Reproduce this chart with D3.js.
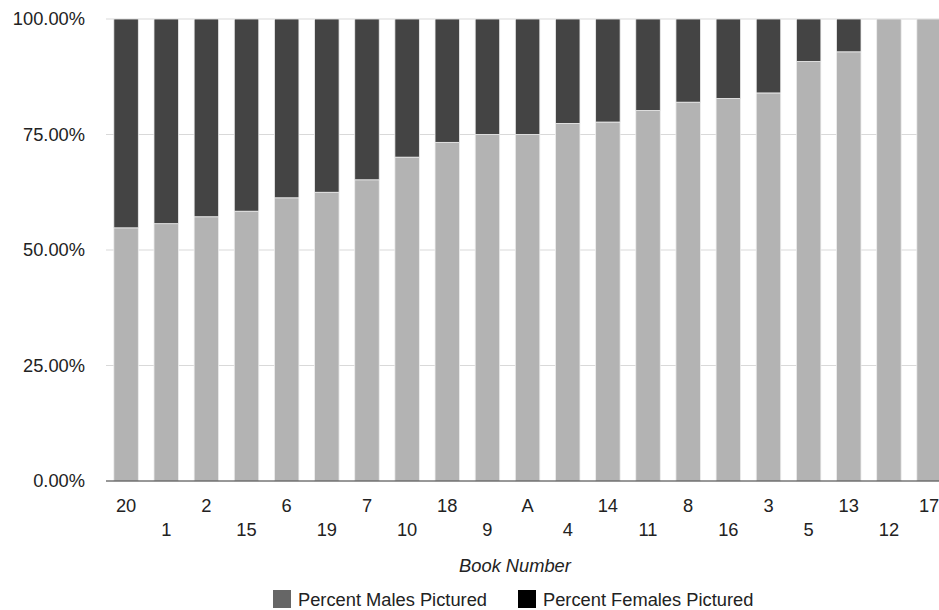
<!DOCTYPE html>
<html>
<head>
<meta charset="utf-8">
<script src="https://cdn.jsdelivr.net/npm/d3@7"></script>
<style>
  body { margin: 0; background: #fff; }
  svg { font-family: "Liberation Sans", Arial, sans-serif; }
</style>
</head>
<body>
<div id="chart"></div>
<script>
var books = ["20", "1", "2", "15", "6", "19", "7", "10", "18", "9", "A", "4", "14", "11", "8", "16", "3", "5", "13", "12", "17"];
var malePct = [54.8, 55.7, 57.2, 58.4, 61.3, 62.5, 65.2, 70.1, 73.3, 75.0, 75.0, 77.4, 77.7, 80.2, 82.0, 82.8, 84.0, 90.8, 92.9, 100, 100];
var femalePct = malePct.map(function (d) { return 100 - d; });
var yTicks = [0, 25, 50, 75, 100];
var seriesNames = ["Percent Males Pictured", "Percent Females Pictured"];

var width = 939, height = 610;
var margin = { top: 19, left: 106, bottom: 129 };
var plotH = height - margin.top - margin.bottom;
var fontSize = 18.3;

var svg = d3.select("#chart").append("svg")
    .attr("width", width)
    .attr("height", height);

var xScale = d3.scaleBand()
    .domain(books)
    .range([margin.left, margin.left + 21 * 40.15])
    .paddingInner(0.39)
    .paddingOuter(0.195);

var yScale = d3.scaleLinear()
    .domain([0, 100])
    .range([margin.top + plotH, margin.top]);

// gridlines
svg.selectAll(".grid")
    .data(yTicks.filter(function (d) { return d > 0; }))
    .enter().append("line")
    .attr("x1", margin.left).attr("x2", width)
    .attr("y1", function (d) { return yScale(d); })
    .attr("y2", function (d) { return yScale(d); })
    .attr("stroke", "#d9d9d9")
    .attr("stroke-width", 1);

svg.selectAll(".ylab")
    .data(yTicks)
    .enter().append("text")
    .attr("x", 85)
    .attr("y", function (d) { return yScale(d); })
    .attr("dy", "0.35em")
    .attr("text-anchor", "end")
    .attr("font-size", fontSize)
    .attr("fill", "#222")
    .text(function (d) { return d.toFixed(2) + "%"; });

var data = books.map(function (b, i) { return { key: b, male: malePct[i], female: femalePct[i] }; });

svg.selectAll(".male")
    .data(data)
    .enter().append("rect")
    .attr("x", function (d) { return xScale(d.key); })
    .attr("y", function (d) { return yScale(d.male); })
    .attr("width", xScale.bandwidth())
    .attr("height", function (d) { return yScale(0) - yScale(d.male); })
    .attr("fill", "#b3b3b3")
    .attr("stroke", "#eee")
    .attr("stroke-width", 0.8);

svg.selectAll(".female")
    .data(data.filter(function (d) { return d.female > 0; }))
    .enter().append("rect")
    .attr("x", function (d) { return xScale(d.key); })
    .attr("y", yScale(100))
    .attr("width", xScale.bandwidth())
    .attr("height", function (d) { return yScale(d.male) - yScale(100); })
    .attr("fill", "#444444")
    .attr("stroke", "#eee")
    .attr("stroke-width", 0.8);

// baseline
svg.append("line")
    .attr("x1", margin.left).attr("x2", width)
    .attr("y1", yScale(0)).attr("y2", yScale(0))
    .attr("stroke", "#333")
    .attr("stroke-width", 1.2);

// staggered x labels
svg.selectAll(".xlab")
    .data(books)
    .enter().append("text")
    .attr("x", function (d) { return xScale(d) + xScale.bandwidth() / 2; })
    .attr("y", function (d, i) { return i % 2 === 0 ? 512 : 536; })
    .attr("text-anchor", "middle")
    .attr("font-size", fontSize)
    .attr("fill", "#222")
    .text(function (d) { return d; });

svg.append("text")
    .attr("x", 515)
    .attr("y", 572)
    .attr("text-anchor", "middle")
    .attr("font-size", fontSize)
    .attr("font-style", "italic")
    .attr("fill", "#222")
    .text("Book Number");

// legend
var legendX = [273, 518];
var legendColors = ["#666666", "#000000"];
var legend = svg.selectAll(".legend")
    .data(seriesNames)
    .enter().append("g")
    .attr("transform", function (d, i) { return "translate(" + legendX[i] + ",590)"; });

legend.append("rect")
    .attr("width", 18).attr("height", 18)
    .attr("fill", function (d, i) { return legendColors[i]; });

legend.append("text")
    .attr("x", 25)
    .attr("y", 15.5)
    .attr("font-size", fontSize)
    .attr("fill", "#222")
    .text(function (d) { return d; });
</script>
</body>
</html>
